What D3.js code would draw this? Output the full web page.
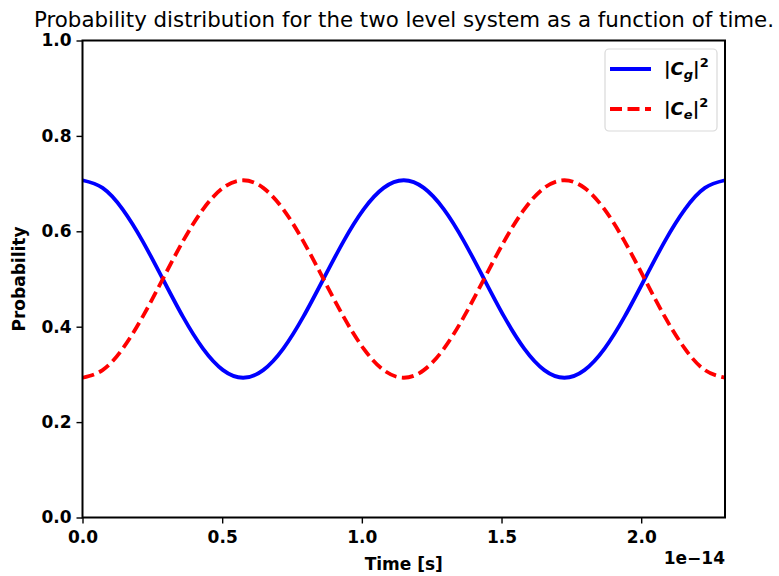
<!doctype html>
<html>
<head>
<meta charset="utf-8">
<title>Two level system</title>
<style>
  body { margin: 0; background: #fff; }
  text { font-family: "DejaVu Sans", sans-serif; }
</style>
</head>
<body>
<script src="https://cdnjs.cloudflare.com/ajax/libs/d3/7.8.5/d3.min.js"></script>
<script>
// time values in units of 1e-14 s (sixteenth of a period apart)
var time = [0, 0.0719, 0.1438, 0.2156, 0.2875, 0.3594, 0.4313, 0.5031, 0.575,
            0.6469, 0.7188, 0.7906, 0.8625, 0.9344, 1.0063, 1.0781, 1.15,
            1.2219, 1.2938, 1.3656, 1.4375, 1.5094, 1.5813, 1.6531, 1.725,
            1.7969, 1.8688, 1.9406, 2.0125, 2.0844, 2.1563, 2.2281, 2.30];
// |Cg|^2
var cg = [0.707, 0.691, 0.646, 0.579, 0.500, 0.421, 0.354, 0.309, 0.293,
          0.309, 0.354, 0.421, 0.500, 0.579, 0.646, 0.691, 0.707,
          0.691, 0.646, 0.579, 0.500, 0.421, 0.354, 0.309, 0.293,
          0.309, 0.354, 0.421, 0.500, 0.579, 0.646, 0.691, 0.707];
// |Ce|^2
var ce = [0.293, 0.309, 0.354, 0.421, 0.500, 0.579, 0.646, 0.691, 0.707,
          0.691, 0.646, 0.579, 0.500, 0.421, 0.354, 0.309, 0.293,
          0.309, 0.354, 0.421, 0.500, 0.579, 0.646, 0.691, 0.707,
          0.691, 0.646, 0.579, 0.500, 0.421, 0.354, 0.309, 0.293];
var xTicks = [0, 0.5, 1.0, 1.5, 2.0];
var yTicks = [0, 0.2, 0.4, 0.6, 0.8, 1.0];

var w = 779, h = 576;
var mLeft = 82.5, mRight = 725, mTop = 40.5, mBottom = 517.5;

var svg = d3.select("body").append("svg")
    .attr("width", w)
    .attr("height", h);

var x = d3.scaleLinear().domain([0, 2.30]).range([mLeft, mRight]);
var y = d3.scaleLinear().domain([0, 1]).range([mBottom, mTop]);

// title
svg.append("text")
    .attr("x", 404).attr("y", 27)
    .attr("text-anchor", "middle")
    .style("font-size", "21px")
    .attr("textLength", 740)
    .attr("lengthAdjust", "spacingAndGlyphs")
    .text("Probability distribution for the two level system as a function of time.");

var line = d3.line().curve(d3.curveNatural);

var plot = svg.append("g");
plot.append("path")
    .attr("d", line(time.map(function (t, i) { return [x(t), y(cg[i])]; })))
    .attr("fill", "none")
    .attr("stroke", "#0000ff")
    .attr("stroke-width", 3.8);
plot.append("path")
    .attr("d", line(time.map(function (t, i) { return [x(t), y(ce[i])]; })))
    .attr("fill", "none")
    .attr("stroke", "#ff0000")
    .attr("stroke-width", 3.8)
    .attr("stroke-dasharray", "12,5.5");

// axes
var xAxis = svg.append("g")
    .attr("transform", "translate(0," + mBottom + ")")
    .call(d3.axisBottom(x).tickValues(xTicks).tickFormat(d3.format(".1f")).tickSize(6).tickPadding(7));
var yAxis = svg.append("g")
    .attr("transform", "translate(" + mLeft + ",0)")
    .call(d3.axisLeft(y).tickValues(yTicks).tickFormat(d3.format(".1f")).tickSize(6).tickPadding(5));
[xAxis, yAxis].forEach(function (a) {
    a.select(".domain").remove();
    a.selectAll("line").attr("stroke", "#000").attr("stroke-width", 1.4);
    a.selectAll("text")
        .style("font-family", "'DejaVu Sans', sans-serif")
        .style("font-size", "17px")
        .style("font-weight", "bold")
        .attr("fill", "#000");
});

// frame
svg.append("rect")
    .attr("x", mLeft).attr("y", mTop)
    .attr("width", mRight - mLeft).attr("height", mBottom - mTop)
    .attr("fill", "none")
    .attr("stroke", "#000")
    .attr("stroke-width", 2);

// axis labels
svg.append("text")
    .attr("x", (mLeft + mRight) / 2).attr("y", 570)
    .attr("text-anchor", "middle")
    .style("font-size", "17px").style("font-weight", "bold")
    .text("Time [s]");
svg.append("text")
    .attr("transform", "translate(25," + ((mTop + mBottom) / 2) + ") rotate(-90)")
    .attr("text-anchor", "middle")
    .style("font-size", "17px").style("font-weight", "bold")
    .text("Probability");
svg.append("text")
    .attr("x", mRight).attr("y", 564)
    .attr("text-anchor", "end")
    .style("font-size", "17px").style("font-weight", "bold")
    .text("1e\u221214");

// legend
var legend = svg.append("g");
legend.append("rect")
    .attr("x", 605).attr("y", 49)
    .attr("width", 112).attr("height", 82)
    .attr("rx", 4)
    .attr("fill", "#fff").attr("fill-opacity", 0.8)
    .attr("stroke", "#d9d9d9").attr("stroke-width", 1.2);

var items = [
    { sub: "g", color: "#0000ff", dash: null, yy: 69 },
    { sub: "e", color: "#ff0000", dash: "12,5.5", yy: 109 }
];
items.forEach(function (it) {
    legend.append("line")
        .attr("x1", 610).attr("x2", 651)
        .attr("y1", it.yy).attr("y2", it.yy)
        .attr("stroke", it.color)
        .attr("stroke-width", 3.8)
        .attr("stroke-dasharray", it.dash);
    var t = legend.append("text")
        .attr("x", 664).attr("y", it.yy + 6)
        .style("font-size", "18px").style("font-weight", "bold");
    t.append("tspan").text("|");
    t.append("tspan").style("font-style", "italic").text("C");
    t.append("tspan").style("font-style", "italic").style("font-size", "13px")
        .attr("dy", 4).text(it.sub);
    t.append("tspan").attr("dy", -4).text("|");
    t.append("tspan").style("font-size", "13px").attr("dy", -8).text("2");
});
</script>
</body>
</html>
